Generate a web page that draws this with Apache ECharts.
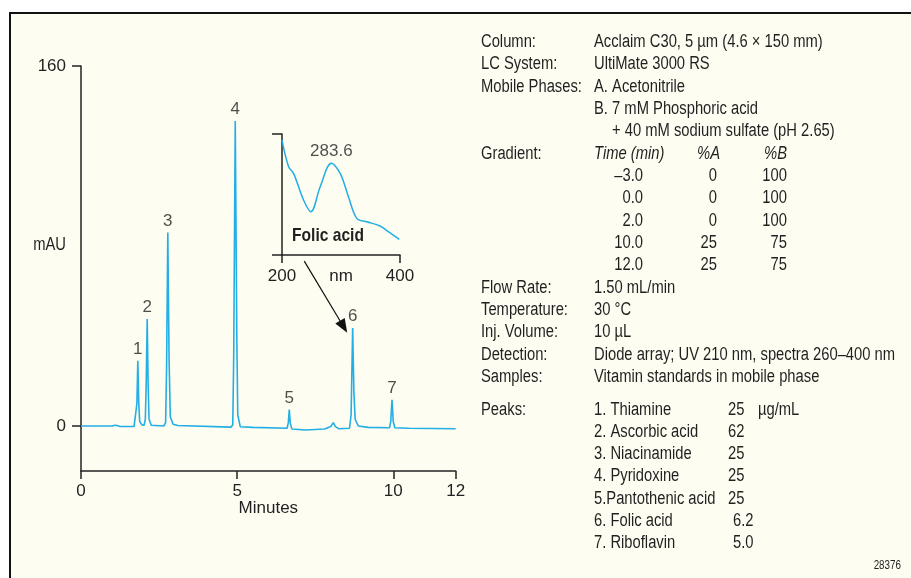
<!DOCTYPE html>
<html>
<head>
<meta charset="utf-8">
<script src="https://cdn.jsdelivr.net/npm/echarts@6/dist/echarts.min.js"></script>
<style>html,body{margin:0;padding:0;background:#fff}#c{width:911px;height:578px}</style>
</head>
<body>
<div id="c"></div>
<script>
// ---------- data ----------
const chromTime = [0.00,1.00,1.08,1.12,1.16,1.25,1.70,1.76,1.79,1.82,1.85,1.88,1.95,2.02,2.06,2.09,2.12,2.15,2.18,2.25,2.65,2.71,2.74,2.78,2.82,2.86,2.95,3.10,4.80,4.86,4.89,4.94,4.99,5.02,5.10,5.50,6.60,6.64,6.67,6.70,6.75,7.20,7.80,8.00,8.08,8.15,8.25,8.60,8.65,8.70,8.74,8.78,8.88,9.20,9.88,9.92,9.96,10.00,10.05,10.50,12.00];
const chromSignal = [0,0,0.3,1.0,0.2,-0.2,-0.2,0.5,10,29,10,2.0,0.5,0.3,3,20,47.5,18,3,0.3,0.0,1.5,25,86,30,4,0.8,0.2,-0.5,0.5,30,135.5,40,5,-0.3,-0.6,-1.0,1.5,7.3,1.5,-1.3,-1.8,-1.3,-0.2,1.5,-0.3,-1.2,-1.0,5,43.5,15,3,0.0,-0.6,-0.8,2,11.6,2,-0.8,-1.0,-1.2];
const peakIds = ['1','2','3','4','5','6','7'];
const peakTimes = [1.82,2.12,2.78,4.94,6.67,8.70,9.96];
const peakHeights = [29,47.5,86,135.5,7.3,43.5,11.6];
const xTicks = [0,5,10,12];
const yTicks = [0,160];

const spectrumNm = [200,211.2,219.6,236.5,249,264.7,283.6,298.6,312.6,326.8,343.7,366.2,380.2,398.8];
const spectrumAbs = [0.95,0.73,0.675,0.455,0.358,0.564,0.758,0.675,0.482,0.303,0.275,0.24,0.193,0.13];
const spectrumMaxNm = 283.6;
const spectrumMaxAbs = 0.758;
const spectrumTicks = [200,400];
const spectrumTitle = 'Folic acid';

const conditionLabels = ['Column:','LC System:','Mobile Phases:','','','Gradient:','','','','','','Flow Rate:','Temperature:','Inj. Volume:','Detection:','Samples:'];
const conditionValues = ['Acclaim C30, 5 µm (4.6 × 150 mm)','UltiMate 3000 RS','A. Acetonitrile','B. 7 mM Phosphoric acid','+ 40 mM sodium sulfate (pH 2.65)','','','','','','','1.50 mL/min','30 °C','10 µL','Diode array; UV 210 nm, spectra 260–400 nm','Vitamin standards in mobile phase'];
const gradientHeader = ['Time (min)','%A','%B'];
const gradientTime = ['–3.0','0.0','2.0','10.0','12.0'];
const gradientA = ['0','0','0','25','25'];
const gradientB = ['100','100','100','75','75'];
const peakNames = ['1. Thiamine','2. Ascorbic acid','3. Niacinamide','4. Pyridoxine','5.Pantothenic acid','6. Folic acid','7. Riboflavin'];
const peakConc = ['25','62','25','25','25','6.2','5.0'];
const concUnit = 'µg/mL';
const figureId = '28376';

// ---------- styles ----------
const FONT = "'Liberation Sans', Arial, sans-serif";
const TXT = '#231f20';
const AX = '#222';
const BLUE = '#23aee5';
const NARROW = 0.82;

function txt(x, y, s, extra) {
  return {type:'text', x:x, y:y, scaleX:NARROW, silent:true, z:10,
    style:Object.assign({text:s, fontFamily:FONT, fontSize:18, fill:TXT, align:'left', verticalAlign:'middle'}, extra||{})};
}

const g = [];
g.push({type:'rect', z:-100, silent:true, shape:{x:10,y:13,width:1000,height:1000},
  style:{fill:'#fdfdf1', stroke:'#111', lineWidth:2}});
g.push(txt(66, 245, 'mAU', {align:'right'}));
g.push(txt(328, 236, spectrumTitle, {align:'center', fontWeight:'bold', fontSize:19}));

const LBL_X = 481, VAL_X = 594, TOP_Y = 42, LINE = 22.33;
conditionLabels.forEach((l, i) => { if (l) g.push(txt(LBL_X, TOP_Y + i*LINE, l)); });
conditionValues.forEach((v, i) => { if (v) g.push(txt(v.charAt(0)==='+' ? VAL_X+18 : VAL_X, TOP_Y + i*LINE, v)); });
const gHeadRow = conditionLabels.indexOf('Gradient:');
g.push(txt(VAL_X, TOP_Y + gHeadRow*LINE, gradientHeader[0], {fontStyle:'italic'}));
g.push(txt(720, TOP_Y + gHeadRow*LINE, gradientHeader[1], {fontStyle:'italic', align:'right'}));
g.push(txt(787, TOP_Y + gHeadRow*LINE, gradientHeader[2], {fontStyle:'italic', align:'right'}));
gradientTime.forEach((t, i) => {
  const y = TOP_Y + (gHeadRow+1+i)*LINE;
  g.push(txt(643, y, t, {align:'right'}));
  g.push(txt(717, y, gradientA[i], {align:'right'}));
  g.push(txt(787, y, gradientB[i], {align:'right'}));
});
const PEAK_Y = 410, PLINE = 22.17;
g.push(txt(LBL_X, PEAK_Y, 'Peaks:'));
peakNames.forEach((n, i) => {
  const y = PEAK_Y + i*PLINE;
  g.push(txt(VAL_X, y, n));
  g.push(txt(peakConc[i].indexOf('.')>=0 ? 733 : 728, y, peakConc[i]));
});
g.push(txt(758, PEAK_Y, concUnit));
g.push(txt(901, 566, figureId, {align:'right', fontSize:12}));

const axisTxt = {color:TXT, fontFamily:FONT, fontSize:17};
const chart = echarts.init(document.getElementById('c'), null, {renderer:'canvas'});
chart.setOption({
  backgroundColor:'#fff',
  animation:false,
  graphic:{elements:g},
  grid:[
    {left:81, top:66, width:374.7, height:405, containLabel:false, outerBoundsMode:'none'},
    {left:282, top:134, width:118, height:121, containLabel:false, outerBoundsMode:'none'}
  ],
  xAxis:[
    {gridIndex:0, type:'value', min:0, max:12,
     axisLine:{onZero:false, lineStyle:{color:AX, width:1.5}},
     axisTick:{customValues:xTicks, length:8, lineStyle:{color:AX, width:1.5}},
     axisLabel:Object.assign({customValues:xTicks, margin:12}, axisTxt),
     splitLine:{show:false},
     name:'Minutes', nameLocation:'middle', nameGap:29, nameMoveOverlap:false,
     nameTextStyle:Object.assign({verticalAlign:'top'}, axisTxt)},
    {gridIndex:1, type:'value', min:200, max:400,
     axisLine:{onZero:false, lineStyle:{color:AX, width:1.5}},
     axisTick:{customValues:spectrumTicks, length:8, lineStyle:{color:AX, width:1.5}},
     axisLabel:Object.assign({customValues:spectrumTicks, margin:13}, axisTxt),
     splitLine:{show:false},
     name:'nm', nameLocation:'middle', nameGap:13, nameMoveOverlap:false,
     nameTextStyle:Object.assign({verticalAlign:'top'}, axisTxt)}
  ],
  yAxis:[
    {gridIndex:0, type:'value', min:-20, max:160,
     axisLine:{show:true, onZero:false, lineStyle:{color:AX, width:1.5}},
     axisTick:{show:true, customValues:yTicks, length:9, lineStyle:{color:AX, width:1.5}},
     axisLabel:Object.assign({customValues:yTicks, margin:15}, axisTxt),
     splitLine:{show:false}},
    {gridIndex:1, type:'value', min:0, max:1,
     axisLine:{show:true, onZero:false, lineStyle:{color:AX, width:1.5}},
     axisTick:{show:true, customValues:[0,1], length:10, lineStyle:{color:AX, width:1.5}},
     axisLabel:{show:false},
     splitLine:{show:false}}
  ],
  series:[
    {type:'line', xAxisIndex:0, yAxisIndex:0, showSymbol:false, silent:true,
     data:chromTime.map((t,i)=>[t, chromSignal[i]]),
     lineStyle:{color:BLUE, width:1.6},
     markLine:{silent:true, symbol:['none','triangle'], symbolSize:[11,14], animation:false,
       label:{show:false}, lineStyle:{color:'#111', width:1.2, type:'solid'},
       data:[[{coord:[7.15,73.3]},{coord:[8.41,44.1]}]]}},
    {type:'scatter', xAxisIndex:0, yAxisIndex:0, symbolSize:0, silent:true,
     data:peakTimes.map((t,i)=>({value:[t, peakHeights[i]], name:peakIds[i]})),
     label:Object.assign({show:true, position:'top', distance:3, formatter:p=>p.name}, axisTxt)},
    {type:'line', xAxisIndex:1, yAxisIndex:1, showSymbol:false, smooth:0.35, silent:true,
     data:spectrumNm.map((n,i)=>[n, spectrumAbs[i]]),
     lineStyle:{color:BLUE, width:1.5}},
    {type:'scatter', xAxisIndex:1, yAxisIndex:1, symbolSize:0, silent:true,
     data:[[spectrumMaxNm, spectrumMaxAbs]],
     label:Object.assign({show:true, position:'top', distance:3, formatter:String(spectrumMaxNm)}, axisTxt)}
  ]
});
</script>
</body>
</html>
